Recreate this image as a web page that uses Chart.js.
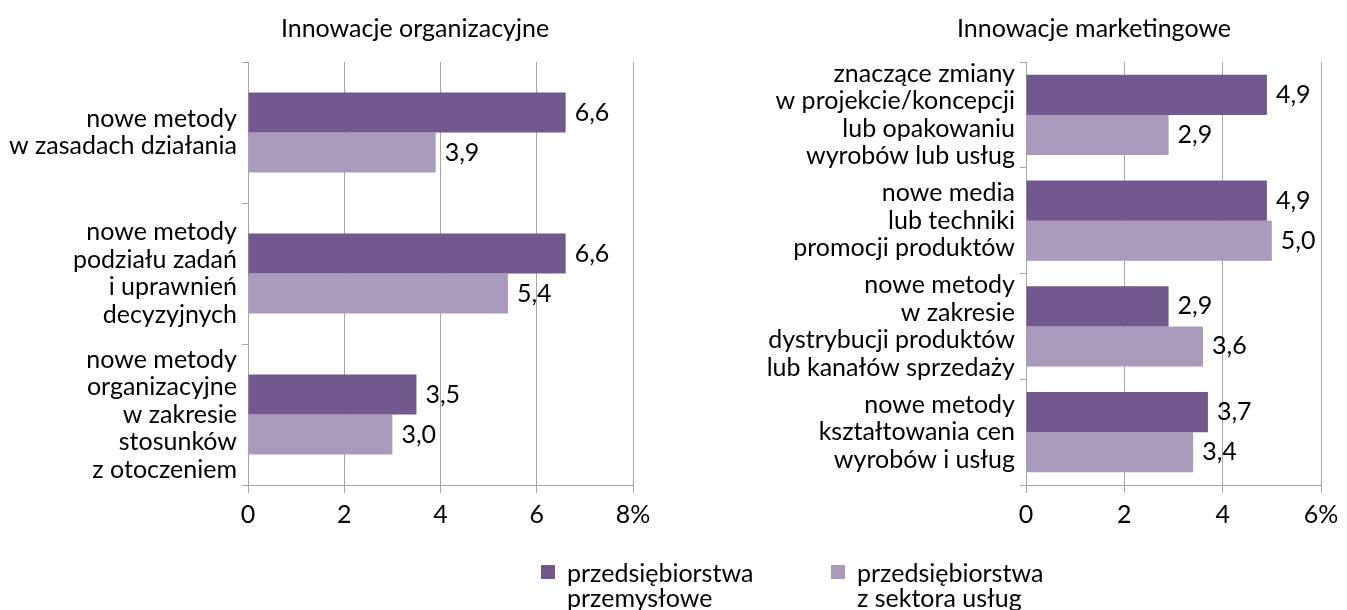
<!DOCTYPE html>
<html>
<head>
<meta charset="utf-8">
<script src="https://cdn.jsdelivr.net/npm/chart.js@4.4.1/dist/chart.umd.min.js"></script>
<style>
  body { margin: 0; background: #fff; font-family: Lato, sans-serif; }
  #wrap { position: relative; width: 1347px; height: 610px; overflow: hidden; }
  #c1 { position: absolute; left: 0; top: 0; }
  #c2 { position: absolute; left: 680px; top: 0; }
  .leg { position: absolute; top: 560px; font-size: 25px; line-height: 25px; color: #000; white-space: nowrap; }
  .leg span.box { position: absolute; left: -26px; top: 5px; width: 14px; height: 14px; }
</style>
</head>
<body>
<div id="wrap">
  <canvas id="c1"></canvas>
  <canvas id="c2"></canvas>
  <div class="leg" id="leg1" style="left:567px"><span class="box"></span></div>
  <div class="leg" id="leg2" style="left:857px"><span class="box"></span></div>
</div>
<script>
// dane
let seriaNazwy = [['przedsiębiorstwa', 'przemysłowe'], ['przedsiębiorstwa', 'z sektora usług']];
let kolory = ['#71598e', '#aa9bbd'];

let orgKategorie = [
  ['nowe metody', 'w zasadach działania'],
  ['nowe metody', 'podziału zadań', 'i uprawnień', 'decyzyjnych'],
  ['nowe metody', 'organizacyjne', 'w zakresie', 'stosunków', 'z otoczeniem']
];
let orgPrzemysl = [6.6, 6.6, 3.5];
let orgUslugi = [3.9, 5.4, 3.0];
let orgTicks = [0, 2, 4, 6, 8];

let markKategorie = [
  ['znaczące zmiany', 'w projekcie/koncepcji', 'lub opakowaniu', 'wyrobów lub usług'],
  ['nowe media', 'lub techniki', 'promocji produktów'],
  ['nowe metody', 'w zakresie', 'dystrybucji produktów', 'lub kanałów sprzedaży'],
  ['nowe metody', 'kształtowania cen', 'wyrobów i usług']
];
let markPrzemysl = [4.9, 4.9, 2.9, 3.7];
let markUslugi = [2.9, 5.0, 3.6, 3.4];
let markTicks = [0, 2, 4, 6];

let szary = '#a6a6a6';
let czcionka = { family: 'Lato, sans-serif', size: 25, lineHeight: 1.1 };

// etykiety wartosci przy slupkach + tytul
let etykiety = {
  id: 'etykiety',
  afterDatasetsDraw(chart, args, opts) {
    let ctx = chart.ctx;
    ctx.save();
    ctx.font = '25px Lato, sans-serif';
    ctx.fillStyle = '#000';
    ctx.textBaseline = 'middle';
    ctx.textAlign = 'left';
    chart.data.datasets.forEach((ds, i) => {
      chart.getDatasetMeta(i).data.forEach((bar, j) => {
        ctx.fillText(ds.data[j].toFixed(1).replace('.', ','), bar.x + 9, bar.y);
      });
    });
    // tytul
    ctx.textAlign = 'center';
    ctx.fillText(opts.tekst, opts.x, 29);
    ctx.restore();
  }
};

let rysujWykres = (id, szer, tytul, kategorie, d1, d2, ticks, opt) => {
  let canvas = document.getElementById(id);
  canvas.width = szer;
  canvas.height = 560;
  let maks = ticks[ticks.length - 1];
  return new Chart(canvas.getContext('2d'), {
    type: 'bar',
    data: {
      labels: kategorie,
      datasets: [
        { label: seriaNazwy[0].join(' '), data: d1, backgroundColor: kolory[0] },
        { label: seriaNazwy[1].join(' '), data: d2, backgroundColor: kolory[1] }
      ]
    },
    options: {
      indexAxis: 'y',
      responsive: false,
      animation: false,
      devicePixelRatio: 1,
      categoryPercentage: opt.catPct,
      barPercentage: 1,
      layout: { padding: { left: 0, right: opt.padR, top: 62, bottom: 0 } },
      plugins: {
        legend: { display: false },
        tooltip: { enabled: false },
        title: { display: false },
        etykiety: { tekst: tytul, x: opt.tytulX }
      },
      scales: {
        x: {
          min: 0,
          max: maks,
          afterBuildTicks: (s) => { s.ticks = ticks.map(v => ({ value: v })); },
          afterFit: (s) => { s.height = 75; },
          grid: { color: szary, lineWidth: 1, tickLength: 8, drawTicks: true },
          border: { display: true, color: szary },
          ticks: {
            color: '#000',
            font: { family: 'Lato, sans-serif', size: 25 },
            padding: 7,
            maxRotation: 0,
            callback: (v) => v === maks ? v + '%' : v
          }
        },
        y: {
          afterFit: (s) => { s.width = opt.yWidth; s.paddingTop = 0; s.paddingBottom = 0; },
          grid: { drawOnChartArea: false, color: szary, tickLength: 6, offset: true },
          border: { display: true, color: szary },
          ticks: { color: '#000', font: czcionka, padding: 5, autoSkip: false }
        }
      }
    },
    plugins: [etykiety]
  });
};

rysujWykres('c1', 680, 'Innowacje organizacyjne', orgKategorie, orgPrzemysl, orgUslugi, orgTicks,
  { catPct: 0.567, padR: 47, yWidth: 248, tytulX: 415 });
rysujWykres('c2', 667, 'Innowacje marketingowe', markKategorie, markPrzemysl, markUslugi, markTicks,
  { catPct: 0.757, padR: 26, yWidth: 346, tytulX: 414 });

// legenda
['leg1', 'leg2'].forEach((id, i) => {
  let el = document.getElementById(id);
  el.querySelector('.box').style.background = kolory[i];
  el.insertAdjacentHTML('beforeend', seriaNazwy[i].join('<br>'));
});
</script>
</body>
</html>
